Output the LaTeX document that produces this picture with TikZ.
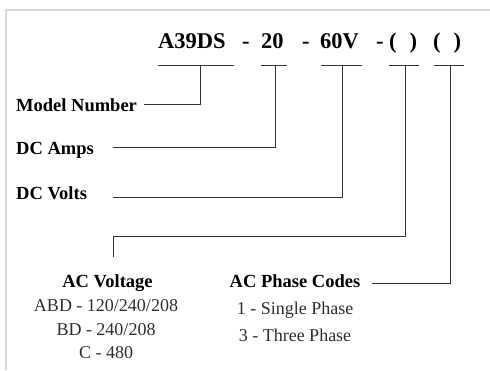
\documentclass[tikz,border=0pt]{standalone}
\usepackage{fontspec}
\setmainfont{Liberation Serif}
\usepackage{xcolor}

\begin{document}
\begin{tikzpicture}[x=1pt,y=-1pt,
  conn/.style={line width=0.9pt,black!80},
  ttl/.style={font=\fontsize{22.5}{26}\selectfont\bfseries,inner sep=0pt,anchor=base west},
  lbl/.style={font=\fontsize{18.5}{21}\selectfont\bfseries,inner sep=0pt,anchor=base west},
  opt/.style={font=\fontsize{18}{21}\selectfont,inner sep=0pt,anchor=base,text=black!82}]
\useasboundingbox (0,0) rectangle (490,370);

\draw[line width=2pt,black!15] (6,370) -- (6,10) -- (490,10);

%\node[ttl] (code) at (158,48) {A39DS - 20 - 60V -( ) ( )};
\node[ttl] (model) at (158,48) {A39DS};
\node[ttl] (dasha) at (242,48) {-};
\node[ttl] (amps) at (261,48) {20};
\node[ttl] (dashb) at (302,48) {-};
\node[ttl] (volts) at (320,48) {60V};
\node[ttl] (dashc) at (376,48) {-};
\node[ttl] (acv) at (389,48) {(\hspace{13pt})};
\node[ttl] (phase) at (433,48) {(\hspace{13pt})};

\coordinate (modelL) at (158,65);
\coordinate (modelR) at (234,65);
\coordinate (ampsL) at (261,65);
\coordinate (ampsR) at (287,65);
\coordinate (voltsL) at (321,65);
\coordinate (voltsR) at (362,65);
\coordinate (acvL) at (389,65);
\coordinate (acvR) at (419,65);
\coordinate (phaseL) at (434,65);
\coordinate (phaseR) at (464,65);

\draw[conn] (modelL) -- (modelR);
\draw[conn] (ampsL) -- (ampsR);
\draw[conn] (voltsL) -- (voltsR);
\draw[conn] (acvL) -- (acvR);
\draw[conn] (phaseL) -- (phaseR);

\coordinate (modelup) at (200,65);
\coordinate (ampsup) at (275,65);
\coordinate (voltsup) at (342,65);
\coordinate (acvup) at (405,65);
\coordinate (phaseup) at (450,65);

\node[lbl] (modellabel) at (16,111) {Model Number};
\node[lbl] (ampslabel) at (16,154) {DC Amps};
\node[lbl] (voltslabel) at (16,199) {DC Volts};

\coordinate (modelin) at (144,104);
\coordinate (ampsin) at (113,147.5);
\coordinate (voltsin) at (113,197);
\coordinate (acvturn) at (113,236);
\coordinate (acvin) at (113,257);
\coordinate (phasein) at (372,283);

\draw[conn] (modelin) -| (modelup);
\draw[conn] (ampsin) -| (ampsup);
\draw[conn] (voltsin) -| (voltsup);
\draw[conn] (acvin) -- (acvturn) -| (acvup);
\draw[conn] (phasein) -| (phaseup);

%AC voltage
\node[lbl,anchor=base] (acvlabel) at (107.5,287) {AC Voltage};
\node[opt] (acvabd) at (106,311) {ABD - 120/240/208};
\node[opt] (acvbd) at (106,335) {BD - 240/208};
\node[opt] (acvc) at (106,358) {C - 480};

%AC phase
\node[lbl,anchor=base] (phaselabel) at (295,287) {AC Phase Codes};
\node[opt] (phaseone) at (295,314) {1 - Single Phase};
\node[opt] (phasethree) at (295,341) {3 - Three Phase};

\end{tikzpicture}
\end{document}
